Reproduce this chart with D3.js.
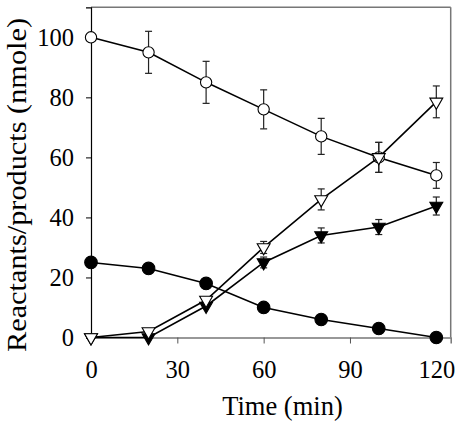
<!DOCTYPE html>
<html><head><meta charset="utf-8">
<script src="https://cdn.jsdelivr.net/npm/d3@7"></script>
<style>body{margin:0;background:#fff}</style>
</head><body>
<svg id="c" width="461" height="422"></svg>
<script>
const times = [0, 20, 40, 60, 80, 100, 120];
const openCircle = [100, 95, 85, 76, 67, 60, 54];
const openCircleErr = [0, 7, 7, 6.5, 6, 5, 4.3];
const openTri = [0, 2, 12.5, 30, 46, 60, 78.5];
const openTriErr = [0, 0, 0, 2, 3.5, 5, 5.3];
const filledTri = [0, 0, 10.5, 25, 34, 36.8, 43.8];
const filledTriErr = [0, 0, 0, 1.8, 2.5, 2.5, 3];
const filledCircle = [25, 23, 18, 10, 6, 3, 0];
const filledCircleErr = [0, 1.5, 1, 0, 0, 0, 0];
const xTicks = [0, 30, 60, 90, 120];
const yTicks = [0, 20, 40, 60, 80, 100];

const svg = d3.select("#c");
const m = {left: 91, right: 10.3, top: 7.3, bottom: 84.5};
const W = 461, H = 422;
const x = d3.scaleLinear().domain([0, 125]).range([m.left, W - m.right]);
const y = d3.scaleLinear().domain([0, 110]).range([H - m.bottom, m.top]);
const font = "'Liberation Serif','Times New Roman',serif";

// frame top/right
svg.append("line").attr("x1", x(0)).attr("x2", x(125)).attr("y1", y(110)).attr("y2", y(110)).attr("stroke", "#777").attr("stroke-width", 1.5);
svg.append("line").attr("x1", x(125)).attr("x2", x(125)).attr("y1", y(110)).attr("y2", y(0)).attr("stroke", "#777").attr("stroke-width", 1.5);

const xa = svg.append("g").attr("transform", `translate(0,${y(0)})`)
  .call(d3.axisBottom(x).tickValues(xTicks).tickSize(6).tickPadding(12));
xa.select(".domain").attr("stroke", "#777").attr("stroke-width", 1.5);
xa.selectAll(".tick line").attr("stroke", "#555");
xa.selectAll("text").attr("font-family", font).attr("font-size", 24.5).attr("fill", "#000")
  .attr("dy", null).attr("y", 378 - y(0));

const ya = svg.append("g").attr("transform", `translate(${x(0)},0)`)
  .call(d3.axisLeft(y).tickValues(yTicks).tickSize(5).tickPadding(12));
ya.select(".domain").attr("stroke", "#000").attr("stroke-width", 1.2);
ya.selectAll(".tick line").attr("stroke", "#000");
ya.selectAll("text").attr("font-family", font).attr("font-size", 24.5).attr("fill", "#000").attr("dy", "0.34em");

svg.append("text").attr("x", 282.5).attr("y", 415).attr("text-anchor", "middle")
  .attr("font-family", font).attr("font-size", 26.5).attr("fill", "#000").text("Time (min)");
svg.append("text").attr("transform", `translate(26,185) rotate(-90)`).attr("text-anchor", "middle")
  .attr("font-family", font).attr("font-size", 28).attr("fill", "#000")
  .attr("textLength", 334).attr("lengthAdjust", "spacingAndGlyphs")
  .text("Reactants/products (nmole)");

const line = d3.line().x(d => x(d[0])).y(d => y(d[1]));

function series(vals, errs, sym, filled, size) {
  const pts = times.map((t, i) => [t, vals[i], errs[i]]);
  svg.append("path").datum(pts).attr("d", line).attr("fill", "none").attr("stroke", "#000").attr("stroke-width", 1.6);
  const g = svg.append("g");
  pts.filter(p => p[2] > 0).forEach(p => {
    const cx = x(p[0]), y1 = y(p[1] + p[2]), y2 = y(p[1] - p[2]);
    g.append("line").attr("x1", cx).attr("x2", cx).attr("y1", y1).attr("y2", y2).attr("stroke", "#222").attr("stroke-width", 1.2);
    [y1, y2].forEach(yy => g.append("line").attr("x1", cx - 3.5).attr("x2", cx + 3.5).attr("y1", yy).attr("y2", yy).attr("stroke", "#222").attr("stroke-width", 1.2));
  });
  svg.append("g").selectAll("path").data(pts).join("path")
    .attr("transform", d => `translate(${x(d[0])},${y(d[1])})` + (sym === d3.symbolTriangle ? " rotate(180)" : ""))
    .attr("d", d3.symbol().type(sym).size(size))
    .attr("fill", filled ? "#000" : "#fff").attr("stroke", "#000").attr("stroke-width", 1.1);
}

series(filledCircle, filledCircleErr, d3.symbolCircle, true, 125);
series(openCircle, openCircleErr, d3.symbolCircle, false, 100);
series(filledTri, filledTriErr, d3.symbolTriangle, true, 72);
series(openTri, openTriErr, d3.symbolTriangle, false, 72);
</script>
</body></html>
